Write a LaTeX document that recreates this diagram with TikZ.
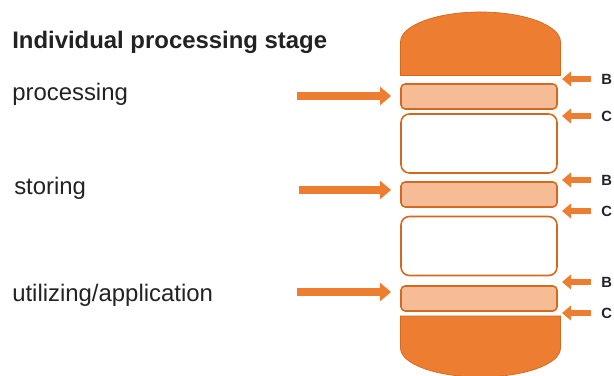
\documentclass[tikz,border=0pt]{standalone}
\usepackage{fontspec}
\setmainfont{Liberation Sans}
\usepackage{tikz}
\usetikzlibrary{arrows.meta,calc}

\definecolor{stageorange}{HTML}{ED7D31}
\definecolor{stageedge}{HTML}{D2691E}
\definecolor{stagelight}{HTML}{F5BC96}
\definecolor{stagetext}{HTML}{222222}

\tikzset{
  head/.style={fill=stageorange, draw=stageedge, line width=0.5pt},
  layer/.style={draw=stageedge, line width=1.1pt, fill=stagelight, rounded corners=3pt,
    minimum width=3.9cm, minimum height=0.625cm, inner sep=0pt},
  chamber/.style={draw=stageedge, line width=1.1pt, fill=white, rounded corners=6pt,
    minimum width=3.9cm, minimum height=1.475cm, inner sep=0pt},
  feed/.style={draw=stageorange, line width=5pt, -{Triangle[length=8pt, width=13pt]}},
  inlet/.style={draw=stageorange, line width=4.3pt, -{Triangle[length=6.5pt, width=10.5pt]}},
  lbl/.style={anchor=west, font=\fontsize{17}{20}\selectfont, text=stagetext, inner sep=0pt},
  tag/.style={anchor=west, font=\bfseries\fontsize{10.5}{12}\selectfont, text=stagetext, inner sep=0pt}
}

\begin{document}
\begin{tikzpicture}[x=0.025cm, y=-0.025cm]
  \useasboundingbox (0,0) rectangle (614,376);

  % column: top and bottom heads
  \draw[head] (400.5,75.5) -- (400.5,42) arc[start angle=180, end angle=0, x radius=80, y radius=-30] -- (560.5,75.5) -- cycle;
  \draw[head] (400.5,316) -- (400.5,348) arc[start angle=180, end angle=360, x radius=80, y radius=-29] -- (560.5,316) -- cycle;

  % layers and chambers
  \node[layer] (lay1) at (479,96.5) {};
  \node[chamber] (ch1) at (479,143.5) {};
  \node[layer] (lay2) at (479,194.5) {};
  \node[chamber] (ch2) at (479,246) {};
  \node[layer] (lay3) at (479,298.5) {};

  % stage labels
  \node[lbl, font=\bfseries\fontsize{17}{20}\selectfont] (title) at (12,42) {Individual processing stage};
  \node[lbl] (proc) at (12,94) {processing};
  \node[lbl] (stor) at (14,188) {storing};
  \node[lbl] (util) at (12,295) {utilizing/application};

  % inputs from the left
  \coordinate (procA) at (297,96);
  \coordinate (storA) at (299,190);
  \coordinate (utilA) at (297,292);
  \draw[feed, shorten >=6.5pt] (procA) -- (procA -| lay1.west);
  \draw[feed, shorten >=6.5pt] (storA) -- (storA -| lay2.west);
  \draw[feed, shorten >=6.5pt] (utilA) -- (utilA -| lay3.west);

  % B and C inlets on the right
  \foreach \y/\t [count=\i] in {79/B, 116/C, 180/B, 211/C, 282/B, 313/C} {
    \coordinate (in\i) at (591,\y);
    \coordinate (tip\i) at (562,\y);
    \draw[inlet] (in\i) -- (tip\i);
    \node[tag] (tag\i) at (601,\y) {\t};
  }
\end{tikzpicture}
\end{document}
